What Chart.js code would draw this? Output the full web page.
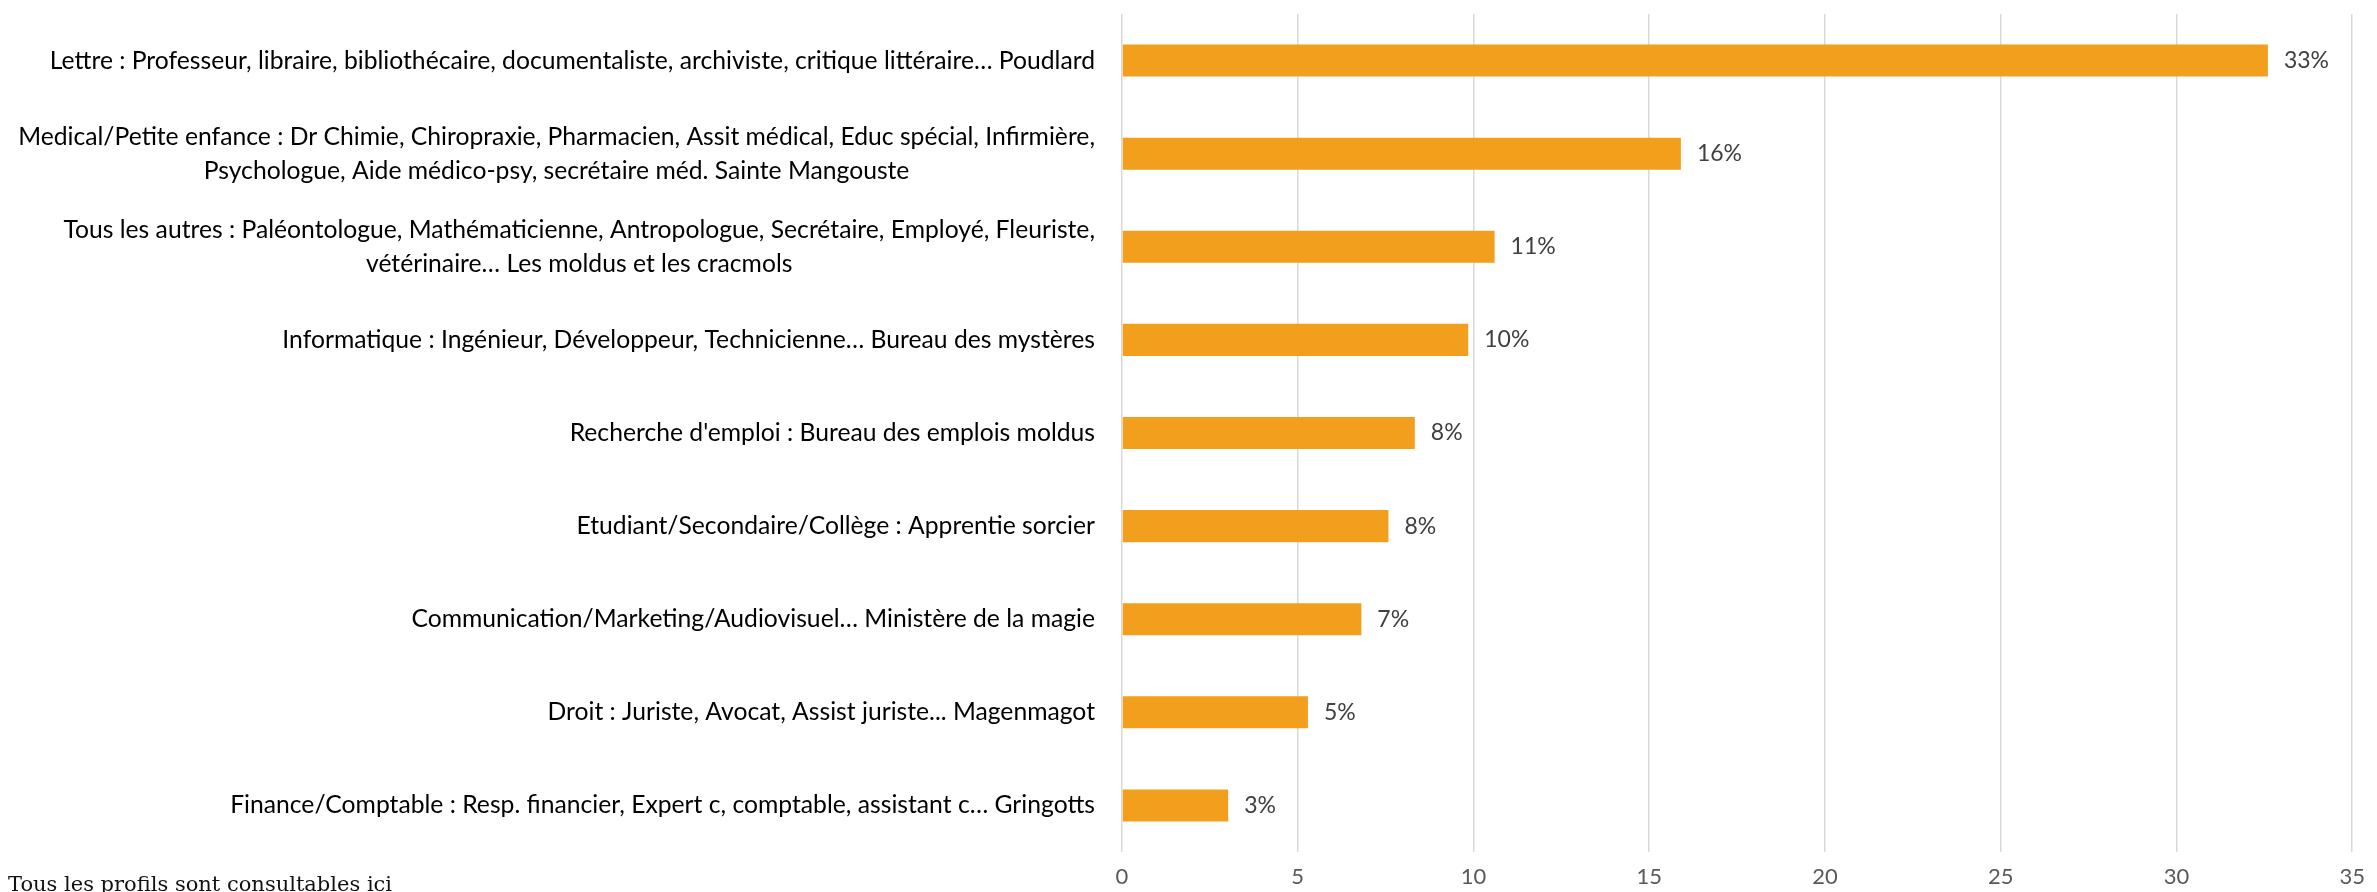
<!DOCTYPE html>
<html lang="fr">
<head>
<meta charset="utf-8">
<title>Métiers</title>
<script src="https://cdn.jsdelivr.net/npm/chart.js@4/dist/chart.umd.min.js"></script>
<style>
    html, body { margin: 0; padding: 0; background: #fff; overflow: hidden; }
    #wrap { position: relative; width: 2377px; height: 898px; }
    #note {
        position: absolute; left: 8px; top: 872px;
        font-family: "DejaVu Serif", serif; font-size: 21px; color: #111;
        white-space: nowrap;
    }
</style>
</head>
<body>
<div id="wrap">
    <canvas id="chart" width="2377" height="898"></canvas>
    <div id="note">Tous les profils sont consultables ici</div>
</div>
<script>
// --- data ---
const categories = [
    ["Lettre : Professeur, libraire, bibliothécaire, documentaliste, archiviste, critique littéraire… Poudlard"],
    ["Medical/Petite enfance : Dr Chimie, Chiropraxie, Pharmacien, Assit médical, Educ spécial, Infirmière,",
     "Psychologue, Aide médico-psy, secrétaire méd. Sainte Mangouste"],
    ["Tous les autres : Paléontologue, Mathématicienne, Antropologue, Secrétaire, Employé, Fleuriste,",
     "vétérinaire… Les moldus et les cracmols"],
    ["Informatique : Ingénieur, Développeur, Technicienne… Bureau des mystères"],
    ["Recherche d'emploi : Bureau des emplois moldus"],
    ["Etudiant/Secondaire/Collège : Apprentie sorcier"],
    ["Communication/Marketing/Audiovisuel… Ministère de la magie"],
    ["Droit : Juriste, Avocat, Assist juriste... Magenmagot"],
    ["Finance/Comptable : Resp. financier, Expert c, comptable, assistant c… Gringotts"],
];
const values = [32.6, 15.9, 10.6, 9.85, 8.33, 7.58, 6.81, 5.29, 3.02];
const valueLabels = ["33%", "16%", "11%", "10%", "8%", "8%", "7%", "5%", "3%"];
const xTicks = [0, 5, 10, 15, 20, 25, 30, 35];

const LABEL_FONT = '24.7px Lato, "Noto Sans", sans-serif';

// --- category labels drawn at the left of the plot, multi-line blocks centred ---
const categoryLabels = {
    id: "categoryLabels",
    afterDraw(chart) {
        const { ctx, chartArea, scales } = chart;
        const right = chartArea.left - 27;
        const lineH = 34;
        ctx.save();
        ctx.font = LABEL_FONT;
        ctx.fillStyle = "#000";
        ctx.textBaseline = "middle";
        ctx.textAlign = "center";
        categories.forEach((lines, i) => {
            const cy = scales.y.getPixelForValue(i);
            const maxW = Math.max(...lines.map((l) => ctx.measureText(l).width));
            const cx = right - maxW / 2;
            const y0 = cy - ((lines.length - 1) * lineH) / 2;
            lines.forEach((l, k) => ctx.fillText(l, cx, y0 + k * lineH));
        });
        ctx.restore();
    },
};

// --- value labels after the bar ends ---
const valueLabelPlugin = {
    id: "valueLabels",
    afterDatasetsDraw(chart) {
        const { ctx } = chart;
        const meta = chart.getDatasetMeta(0);
        ctx.save();
        ctx.font = '23px Lato, "Noto Sans", sans-serif';
        ctx.fillStyle = "#404040";
        ctx.textBaseline = "middle";
        ctx.textAlign = "left";
        meta.data.forEach((bar, i) => {
            ctx.fillText(valueLabels[i], bar.x + 16, bar.y);
        });
        ctx.restore();
    },
};

new Chart(document.getElementById("chart"), {
    type: "bar",
    data: {
        labels: categories,
        datasets: [
            {
                data: values,
                backgroundColor: "#f29f1d",
                borderWidth: 0,
                categoryPercentage: 1,
                barPercentage: 0.344,
            },
        ],
    },
    options: {
        indexAxis: "y",
        responsive: false,
        animation: false,
        devicePixelRatio: 1,
        layout: { padding: { left: 1122, right: 15, top: 14, bottom: 0 } },
        plugins: {
            legend: { display: false },
            tooltip: { enabled: false },
        },
        scales: {
            x: {
                min: 0,
                max: 35,
                afterBuildTicks: (axis) => {
                    axis.ticks = xTicks.map((v) => ({ value: v }));
                },
                // fixed axis band so the plot ends where the reference's does
                afterFit: (axis) => {
                    axis.height = 46;
                },
                grid: { color: "#d9d9d9", lineWidth: 1.5, drawTicks: false },
                border: { display: false },
                ticks: {
                    padding: 12,
                    color: "#595959",
                    font: { family: "Lato", size: 22 },
                },
            },
            y: {
                display: false,
                grid: { display: false },
            },
        },
    },
    plugins: [categoryLabels, valueLabelPlugin],
});
</script>
</body>
</html>
